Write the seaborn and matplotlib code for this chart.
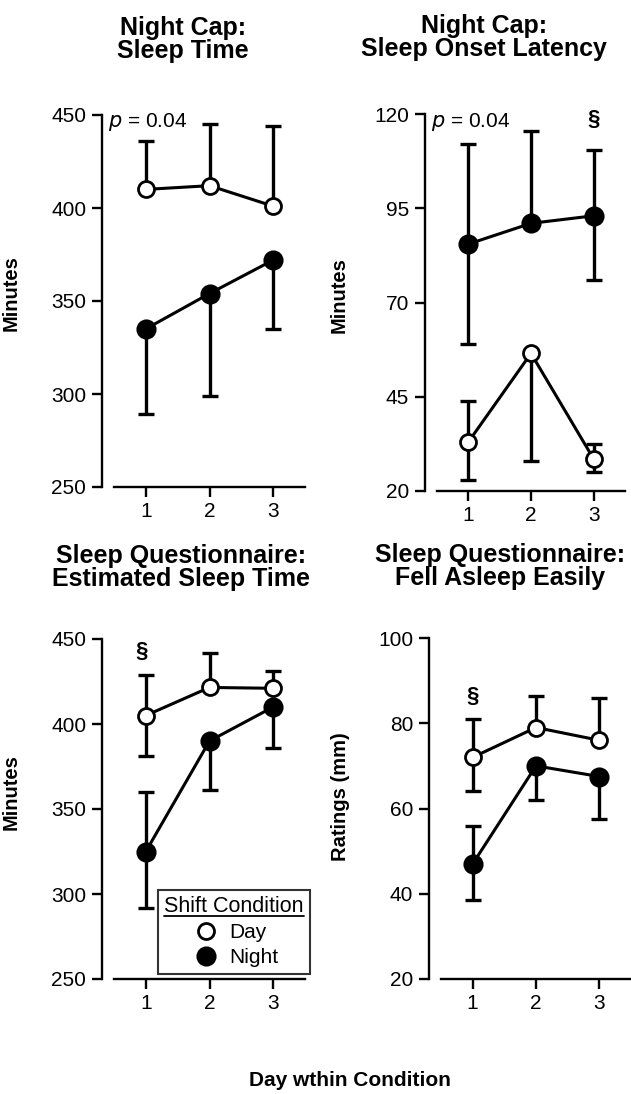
import numpy as np
import pandas as pd
import matplotlib
matplotlib.use("Agg")
import matplotlib.pyplot as plt
from matplotlib.lines import Line2D
import seaborn as sns

# ── Data ──────────────────────────────────────────────────────────────────────
nan = np.nan
days = [1, 2, 3]

sleep_time_day = [410, 412, 401]
sleep_time_day_hi = [436, 445, 444]
sleep_time_day_lo = [nan, nan, nan]
sleep_time_night = [335, 354, 372]
sleep_time_night_hi = [nan, nan, nan]
sleep_time_night_lo = [289, 299, 335]

onset_day = [33, 56.5, 28.5]
onset_day_hi = [44, nan, 32.5]
onset_day_lo = [23, 28, 25]
onset_night = [85.5, 91, 93]
onset_night_hi = [112, 115.5, 110.5]
onset_night_lo = [59, nan, 76]

est_day = [405, 421.5, 421]
est_day_hi = [429, 441.5, 431]
est_day_lo = [381, nan, nan]
est_night = [325, 390, 410]
est_night_hi = [360, nan, nan]
est_night_lo = [292, 361, 386]

fell_day = [72, 79, 76]
fell_day_hi = [81, 86.5, 86]
fell_day_lo = [64, nan, nan]
fell_night = [47, 70, 67.5]
fell_night_hi = [56, nan, nan]
fell_night_lo = [38.5, 62, 57.5]

titles = ["Night Cap:\nSleep Time", "Night Cap:\nSleep Onset Latency",
          "Sleep Questionnaire:\nEstimated Sleep Time", "Sleep Questionnaire:\nFell Asleep Easily"]
ylabels = ["Minutes", "Minutes", "Minutes", "Ratings (mm)"]
yticks = [[250, 300, 350, 400, 450], [20, 45, 70, 95, 120],
          [250, 300, 350, 400, 450], [20, 40, 60, 80, 100]]

# ── Style ─────────────────────────────────────────────────────────────────────
sns.set_style("ticks")
plt.rcParams["font.family"] = ["Liberation Sans", "DejaVu Sans"]
plt.rcParams.update({
    "text.color": "black", "axes.labelcolor": "black", "axes.edgecolor": "black",
    "xtick.color": "black", "ytick.color": "black",
    "axes.linewidth": 1.7, "xtick.major.width": 1.7, "ytick.major.width": 1.7,
    "xtick.major.size": 7, "ytick.major.size": 7,
    "xtick.labelsize": 15, "ytick.labelsize": 15,
})

W, H = 631, 1094
fig = plt.figure(figsize=(W / 100, H / 100), dpi=100)


def px_axes(x0, x1, ytop, ybot):
    return fig.add_axes([x0 / W, 1 - ybot / H, (x1 - x0) / W, (ybot - ytop) / H])


axes = [px_axes(114, 305, 115, 487), px_axes(437, 625, 114, 491),
        px_axes(114, 305, 639, 979), px_axes(441, 631, 638, 979)]

panels = [
    (sleep_time_day, sleep_time_day_hi, sleep_time_day_lo,
     sleep_time_night, sleep_time_night_hi, sleep_time_night_lo),
    (onset_day, onset_day_hi, onset_day_lo, onset_night, onset_night_hi, onset_night_lo),
    (est_day, est_day_hi, est_day_lo, est_night, est_night_hi, est_night_lo),
    (fell_day, fell_day_hi, fell_day_lo, fell_night, fell_night_hi, fell_night_lo),
]


def draw_err(ax, y, hi, lo):
    y, hi, lo = np.array(y), np.array(hi), np.array(lo)
    x = np.array(days)
    for bound in (hi, lo):
        m = ~np.isnan(bound)
        if m.any():
            d = bound[m] - y[m]
            err = [np.where(d < 0, -d, 0), np.where(d > 0, d, 0)]
            ax.errorbar(x[m], y[m], yerr=err, fmt="none", ecolor="black",
                        elinewidth=2.4, capsize=6, capthick=2.4, zorder=2)


title_x = [0.36, 0.25, 0.35, 0.31]
ylab_x = [-0.49, -0.47, -0.49, -0.48]
ylab_y = [0.52, 0.52, 0.55, 0.535]

for i, (ax, pdata) in enumerate(zip(axes, panels)):
    dy, dhi, dlo, ny, nhi, nlo = pdata
    draw_err(ax, dy, dhi, dlo)
    draw_err(ax, ny, nhi, nlo)
    df = pd.DataFrame({"day": days * 2, "value": list(dy) + list(ny),
                       "shift": ["Day"] * 3 + ["Night"] * 3})
    sns.lineplot(data=df[df["shift"] == "Day"], x="day", y="value", ax=ax,
                 color="black", lw=2.2, marker="o", ms=11.5, mfc="white",
                 mec="black", mew=2.0, zorder=4)
    sns.lineplot(data=df[df["shift"] == "Night"], x="day", y="value", ax=ax,
                 color="black", lw=2.2, marker="o", ms=12.5, mfc="black",
                 mec="black", mew=2.0, zorder=4)
    ax.set_xlim(0.5, 3.5)
    ax.set_ylim(yticks[i][0], yticks[i][-1])
    ax.set_yticks(yticks[i])
    ax.set_xticks(days)
    ax.set_xlabel("")
    ax.set_ylabel(ylabels[i], fontsize=14.5, fontweight="bold")
    ax.yaxis.set_label_coords(ylab_x[i], ylab_y[i])
    sns.despine(ax=ax)
    ax.spines["left"].set_position(("outward", 9))
    ax.tick_params(axis="both", pad=4)
    ax.text(title_x[i], 1.14, titles[i], transform=ax.transAxes, ha="center",
            va="bottom", fontsize=18, fontweight="bold", linespacing=0.95)

# p values and section marks
for ax in axes[:2]:
    ax.text(-0.03, 0.98, "$p$ = 0.04", transform=ax.transAxes, ha="left",
            va="center", fontsize=15)
axes[1].text(3, 118.5, "§", ha="center", va="center", fontsize=16, fontweight="bold")
axes[2].text(0.94, 442.5, "§", ha="center", va="center", fontsize=16, fontweight="bold")
axes[3].text(1, 86.3, "§", ha="center", va="center", fontsize=16, fontweight="bold")

# legend
handles = [Line2D([], [], ls="none", marker="o", ms=11.5, mfc="white", mec="black", mew=2.0),
           Line2D([], [], ls="none", marker="o", ms=12.5, mfc="black", mec="black", mew=2.0)]
leg = axes[2].legend(handles, ["Day", "Night"], title="Shift Condition",
                     loc="lower left", bbox_to_anchor=(0.23, 0.016),
                     fontsize=15, title_fontsize=15.5, frameon=True,
                     fancybox=False, edgecolor="black", borderpad=0.3,
                     labelspacing=0.3, handletextpad=0.3, handlelength=1.6,
                     borderaxespad=0)
leg.get_frame().set_linewidth(1.5)
leg.set_zorder(10)

fig.text(350 / W, 1 - 1080 / H, "Day wthin Condition", ha="center", va="center",
         fontsize=15, fontweight="bold")

# underline the legend title
fig.canvas.draw()
bb = leg.get_title().get_window_extent()
inv = fig.transFigure.inverted()
(x0, y0), (x1, _) = inv.transform([(bb.x0, bb.y0 + 1), (bb.x1, bb.y0 + 1)])
fig.add_artist(Line2D([x0, x1], [y0, y0], color="black", lw=1.3, transform=fig.transFigure))

fig.savefig("out.png", dpi=100)
